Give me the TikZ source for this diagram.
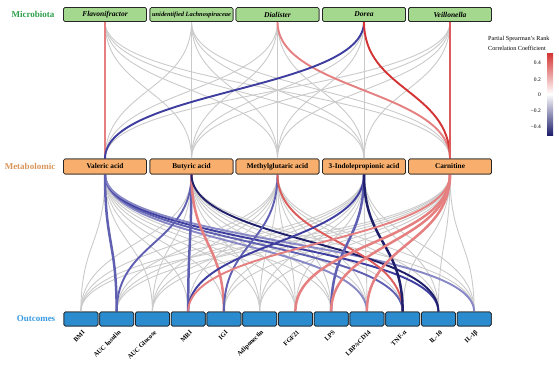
\documentclass[tikz,border=0pt]{standalone}
\usepackage{fontspec}
\setmainfont{Liberation Serif}
\definecolor{mgreen}{HTML}{A3D88E}
\definecolor{morange}{HTML}{F8AE6C}
\definecolor{mblue}{HTML}{2A8CCF}
\definecolor{lgreen}{HTML}{2E9E4A}
\definecolor{ltan}{HTML}{D9955A}
\definecolor{lblue}{HTML}{3A9AE0}
\definecolor{cR1}{HTML}{D43434}
\definecolor{cR2}{HTML}{DC5C5C}
\definecolor{cP}{HTML}{E68080}
\definecolor{cB1}{HTML}{3E3EA0}
\definecolor{cB2}{HTML}{6060B2}
\definecolor{cB3}{HTML}{8888C6}
\definecolor{cN}{HTML}{1F1F6C}
\definecolor{cG}{HTML}{CACACA}
\newcommand\lkA[3]{\draw[#3] (#1.south) .. controls +(0,68.5) and +(0,-68.5) .. (#2.north);}
\newcommand\lkB[3]{\draw[#3] (#1.south) .. controls +(0,69) and +(0,-69) .. (#2.north);}
\begin{document}
\begin{tikzpicture}[x=1pt,y=-1pt,
  boxbase/.style={draw=black!85, line width=0.7pt, rounded corners=1.5pt, inner sep=0pt},
  topbox/.style={boxbase, fill=mgreen, minimum width=83pt, minimum height=14pt, font=\fontsize{7.5}{8}\selectfont\bfseries\itshape},
  midbox/.style={boxbase, fill=morange, minimum width=83pt, minimum height=15pt, font=\fontsize{7.3}{8}\selectfont\bfseries},
  botbox/.style={boxbase, fill=mblue, minimum width=34pt, minimum height=14pt},
  rowlab/.style={font=\fontsize{9}{10}\selectfont\bfseries},
  outlab/.style={font=\fontsize{6.5}{7}\selectfont\bfseries, rotate=45, anchor=east, inner sep=0pt},
  tick/.style={font=\fontsize{5.5}{6}\selectfont, anchor=east, inner sep=0pt},
  legt/.style={font=\fontsize{6.2}{7}\selectfont, anchor=west, inner sep=0pt},
  gl/.style={draw=cG, line width=0.9pt},
  mid/.style={line width=1.9pt},
  thick/.style={line width=2.5pt}
]
\useasboundingbox (0,0) rectangle (559,364);
% top nodes
\node[topbox] (f1) at (105,14.5) {Flavonifractor};
\node[topbox] (f2) at (191.5,14.5) {\fontsize{6.4}{7}\selectfont unidentified Lachnospiraceae};
\node[topbox] (f3) at (277.5,14.5) {Dialister};
\node[topbox] (f4) at (364,14.5) {Dorea};
\node[topbox] (f5) at (450,14.5) {Veillonella};
% middle nodes
\node[midbox] (m1) at (105,166.5) {Valeric acid};
\node[midbox] (m2) at (191.5,166.5) {Butyric acid};
\node[midbox] (m3) at (277.5,166.5) {Methylglutaric acid};
\node[midbox] (m4) at (364,166.5) {3-Indolepropionic acid};
\node[midbox] (m5) at (450,166.5) {Carnitine};
% bottom nodes
\foreach \i in {1,...,12}{
  \pgfmathsetmacro\bx{80.9+35.75*(\i-1)}
  \node[botbox] (o\i) at (\bx,319) {};
}
% gray links
\foreach \a in {1,...,5}{\foreach \b in {1,...,5}{\lkA{f\a}{m\b}{gl}}}
\foreach \a in {1,...,5}{\foreach \b in {1,...,12}{\lkB{m\a}{o\b}{gl}}}
% coloured links, top layer
\lkA{f1}{m1}{cP,thick}
\lkA{f3}{m5}{cP,mid}
\lkA{f4}{m1}{cB1,mid}
\lkA{f4}{m5}{cR1,mid}
\lkA{f5}{m5}{cR2,thick}
% coloured links, bottom layer
\lkB{m1}{o9}{cB3,mid}
\lkB{m1}{o10}{cB2,mid}
\lkB{m1}{o11}{cB1,mid}
\lkB{m1}{o12}{cB3,mid}
\lkB{m1}{o2}{cB2,thick}
\lkB{m2}{o2}{cB2,mid}
\lkB{m2}{o4}{cB2,thick}
\lkB{m2}{o5}{cP,thick}
\lkB{m2}{o11}{cN,mid}
\lkB{m3}{o5}{cB2,mid}
\lkB{m3}{o10}{cR2,mid}
\lkB{m4}{o4}{cB1,mid}
\lkB{m4}{o8}{cB2,thick}
\lkB{m4}{o10}{cN,thick}
\lkB{m5}{o4}{cP,mid}
\lkB{m5}{o7}{cP,thick}
\lkB{m5}{o8}{cP,thick}
\lkB{m5}{o9}{cP,thick}
% redraw boxes over lines
\node[topbox] at (f1) {Flavonifractor};
\node[topbox] at (f2) {\fontsize{6.4}{7}\selectfont unidentified Lachnospiraceae};
\node[topbox] at (f3) {Dialister};
\node[topbox] at (f4) {Dorea};
\node[topbox] at (f5) {Veillonella};
\node[midbox] at (m1) {Valeric acid};
\node[midbox] at (m2) {Butyric acid};
\node[midbox] at (m3) {Methylglutaric acid};
\node[midbox] at (m4) {3-Indolepropionic acid};
\node[midbox] at (m5) {Carnitine};
\foreach \i in {1,...,12}{\node[botbox] at (o\i) {};}
% outcome labels
\foreach \i/\t in {1/BMI,2/AUC Insulin,3/AUC Glucose,4/MRI,5/IGI,6/Adiponectin,7/FGF21,8/LPS,9/{LBP/sCD14},10/TNF-α,11/IL-10,12/IL-1β}{
  \node[outlab] (l\i) at ([xshift=3pt,yshift=-5pt]o\i.south) {\t};
}
% row labels
\node[rowlab, text=lgreen] (r1) at (33,14.5) {Microbiota};
\node[rowlab, text=ltan] (r2) at (30,166.5) {Metabolomic};
\node[rowlab, text=lblue] (r3) at (36,319) {Outcomes};
% legend
\node[legt] (lt1) at (488,39) {Partial Spearman's Rank};
\node[legt] (lt2) at (488,48.5) {Correlation Coefficient};
\shade[top color=cR1, bottom color=cN, middle color=white] (547,53) rectangle (553,135);
\node[tick] (k1) at (541,63) {0.4};
\node[tick] (k2) at (541,79.5) {0.2};
\node[tick] (k3) at (541,95) {0};
\node[tick] (k4) at (541,111) {−0.2};
\node[tick] (k5) at (541,127) {−0.4};
\end{tikzpicture}
\end{document}
